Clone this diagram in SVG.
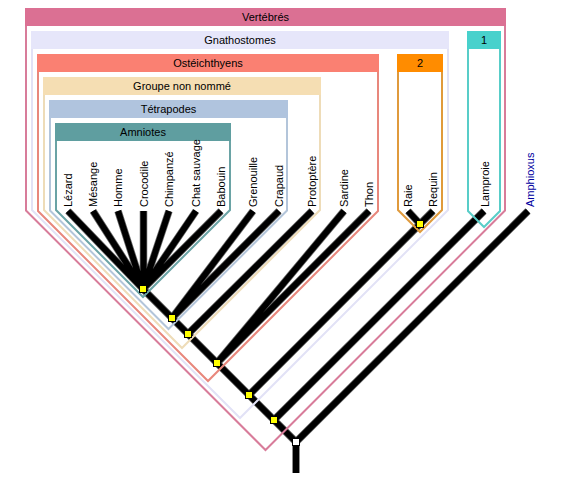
<svg xmlns="http://www.w3.org/2000/svg" width="584" height="479" viewBox="0 0 584 479">
<style>
.br{fill:none;stroke:#000;stroke-width:6;stroke-linecap:butt}
.brh{fill:none;stroke:#6a6a6a;stroke-width:7.5;stroke-linecap:butt}
.fr{fill:none;stroke-width:2}
.ht{font-family:"Liberation Sans",Arial,sans-serif;font-size:11px;fill:#000;text-anchor:middle}
.lf{font-family:"Liberation Sans",Arial,sans-serif;font-size:11px;fill:#000}
.nd{fill:#ffff00;stroke:#000;stroke-width:1}
</style>
<rect width="584" height="479" fill="#fff"/>
<g id="connectors">
<path class="brh" d="M68,211L143,289M93,211L143,289M118,211L143,289M143.5,211L143.5,289M169,211L143,289M196,211L143,289M221,211L143,289M253,211L172,318M279,211L172,318M312,211L188,334M344,211L217,363M369,211L217,363M408,211L420,224M433,211L420,224M420,224L249,395M484,211L274,420M528,211L296,442M143,289L296,442M296,442L296,473"/>
<path class="br" d="M68,211L143,289M93,211L143,289M118,211L143,289M143.5,211L143.5,289M169,211L143,289M196,211L143,289M221,211L143,289M253,211L172,318M279,211L172,318M312,211L188,334M344,211L217,363M369,211L217,363M408,211L420,224M433,211L420,224M420,224L249,395M484,211L274,420M528,211L296,442M143,289L296,442M296,442L296,473"/>
</g>
<g id="clade-vertebres">
<polyline class="fr" stroke="#d87c9a" points="26,26 26,210.5 265.5,450 505,210.5 505,26"/>
<rect x="25" y="8" width="481" height="18" fill="#db7093"/>
<text class="ht" x="265.5" y="21">Vertébrés</text>
</g>
<g id="clade-gnathostomes">
<polyline class="fr" stroke="#e2e2f6" points="32,49 32,210 240,418 448,210 448,49"/>
<rect x="31" y="31" width="418" height="18" fill="#e6e6fa"/>
<text class="ht" x="240" y="44">Gnathostomes</text>
</g>
<g id="clade-osteichthyens">
<polyline class="fr" stroke="#e8877c" points="38,72 38,211 208,381 378,211 378,72"/>
<rect x="37" y="54" width="342" height="18" fill="#fa8072"/>
<text class="ht" x="208" y="67">Ostéichthyens</text>
</g>
<g id="clade-groupe">
<polyline class="fr" stroke="#eedcb8" points="44,95 44,210 182,348 320,210 320,95"/>
<rect x="43" y="77" width="278" height="18" fill="#f5deb3"/>
<text class="ht" x="182" y="90">Groupe non nommé</text>
</g>
<g id="clade-tetrapodes">
<polyline class="fr" stroke="#b3c5da" points="50,118 50,210.5 168.5,329 287,210.5 287,118"/>
<rect x="49" y="100" width="239" height="18" fill="#b0c4de"/>
<text class="ht" x="168.5" y="113">Tétrapodes</text>
</g>
<g id="clade-amniotes">
<polyline class="fr" stroke="#6aa3a5" points="56,141 56,210 143,297 230,210 230,141"/>
<rect x="55" y="123" width="176" height="18" fill="#5f9ea0"/>
<text class="ht" x="143" y="136">Amniotes</text>
</g>
<g id="clade-2">
<polyline class="fr" stroke="#e09a3c" points="398,72 398,210 420,232 442,210 442,72"/>
<rect x="397" y="54" width="46" height="18" fill="#ff8c00"/>
<text class="ht" x="420" y="67">2</text>
</g>
<g id="clade-1">
<polyline class="fr" stroke="#58cdc8" points="468,49 468,211 484,227 500,211 500,49"/>
<rect x="467" y="31" width="34" height="18" fill="#48d1cc"/>
<text class="ht" x="484" y="44">1</text>
</g>
<g id="leaf-lezard"><text class="lf" transform="translate(72,207) rotate(-90)">Lézard</text></g>
<g id="leaf-mesange"><text class="lf" transform="translate(97,207) rotate(-90)">Mésange</text></g>
<g id="leaf-homme"><text class="lf" transform="translate(122,207) rotate(-90)">Homme</text></g>
<g id="leaf-crocodile"><text class="lf" transform="translate(148,207) rotate(-90)">Crocodile</text></g>
<g id="leaf-chimpanze"><text class="lf" transform="translate(173,207) rotate(-90)">Chimpanzé</text></g>
<g id="leaf-chat"><text class="lf" transform="translate(200,207) rotate(-90)">Chat sauvage</text></g>
<g id="leaf-babouin"><text class="lf" transform="translate(225,207) rotate(-90)">Babouin</text></g>
<g id="leaf-grenouille"><text class="lf" transform="translate(257,207) rotate(-90)">Grenouille</text></g>
<g id="leaf-crapaud"><text class="lf" transform="translate(283,207) rotate(-90)">Crapaud</text></g>
<g id="leaf-protoptere"><text class="lf" transform="translate(316,207) rotate(-90)">Protoptère</text></g>
<g id="leaf-sardine"><text class="lf" transform="translate(348,207) rotate(-90)">Sardine</text></g>
<g id="leaf-thon"><text class="lf" transform="translate(373,207) rotate(-90)">Thon</text></g>
<g id="leaf-raie"><text class="lf" transform="translate(412,207) rotate(-90)">Raie</text></g>
<g id="leaf-requin"><text class="lf" transform="translate(437,207) rotate(-90)">Requin</text></g>
<g id="leaf-lamproie"><text class="lf" transform="translate(489,207) rotate(-90)">Lamproie</text></g>
<g id="leaf-amphioxus"><text class="lf" fill="#0000a0" style="fill:#0000a0" transform="translate(534,207) rotate(-90)">Amphioxus</text></g>
<g id="node-amniotes"><rect class="nd" x="139.5" y="285.5" width="7" height="7"/></g>
<g id="node-tetrapodes"><rect class="nd" x="168.5" y="314.5" width="7" height="7"/></g>
<g id="node-groupe"><rect class="nd" x="184.5" y="330.5" width="7" height="7"/></g>
<g id="node-osteichthyens"><rect class="nd" x="213.5" y="359.5" width="7" height="7"/></g>
<g id="node-gnathostomes"><rect class="nd" x="245.5" y="391.5" width="7" height="7"/></g>
<g id="node-vertebres"><rect class="nd" x="270.5" y="416.5" width="7" height="7"/></g>
<g id="node-chondrichthyens"><rect class="nd" x="416.5" y="220.5" width="7" height="7"/></g>
<g id="node-root"><rect class="nd" style="fill:#fff" x="292.5" y="438.5" width="7" height="7"/></g>
</svg>
